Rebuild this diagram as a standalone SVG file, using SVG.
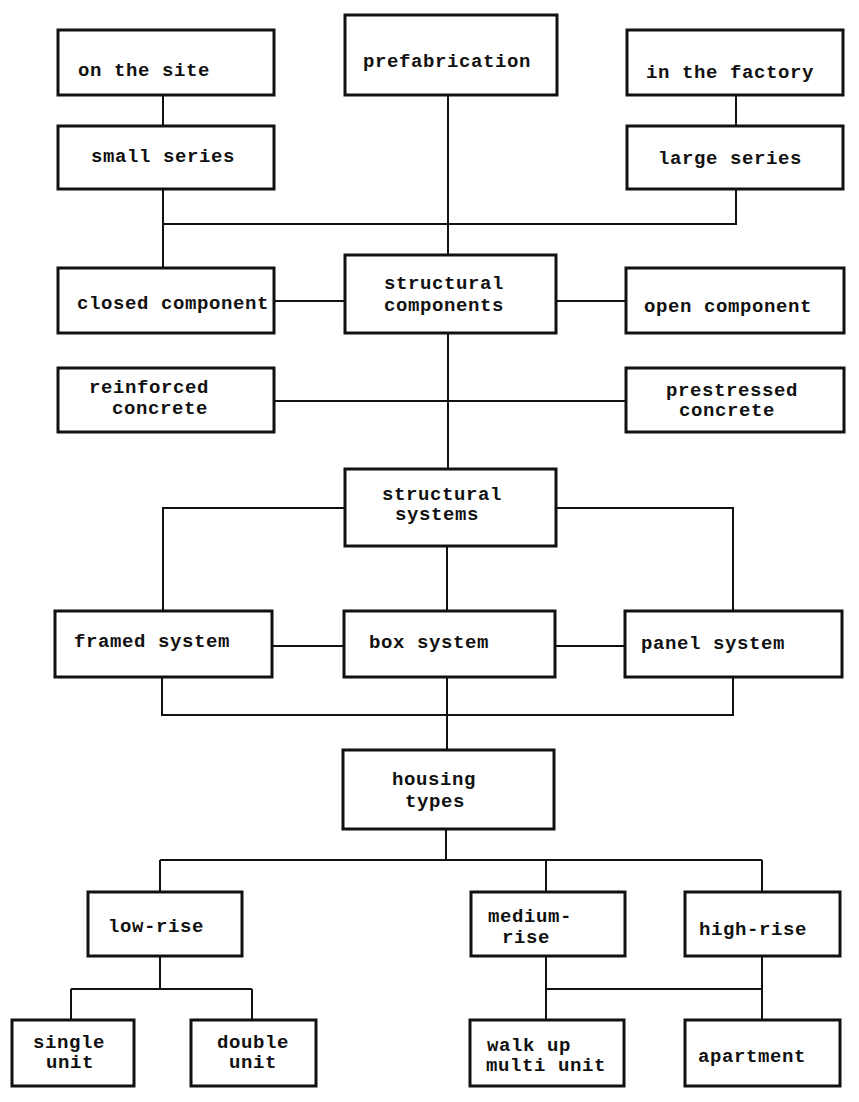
<svg xmlns="http://www.w3.org/2000/svg" width="859" height="1102" viewBox="0 0 859 1102">
<style>
.box{fill:#fff;stroke:#111;stroke-width:3}
.ln{fill:none;stroke:#111;stroke-width:2}
text{font-family:"Liberation Mono","DejaVu Sans Mono",monospace;font-weight:bold;font-size:19px;letter-spacing:0.6px;fill:#111}
</style>
<rect width="859" height="1102" fill="#fff"/>
<g id="connectors">
<path class="ln" d="M163 95V126M736 95V126M163 189V268M736 189V224H163M448 95V255"/>
<path class="ln" d="M274 301H345M557 301H626M274 401H626M448 333V469"/>
<path class="ln" d="M345 508H163V611M556 508H733V611M447 546V611"/>
<path class="ln" d="M272 646H344M555 646H625M162 677V715H733V677M447 677V750"/>
<path class="ln" d="M446 829V860M160 860H762M160 860V892M546 860V892M762 860V892"/>
<path class="ln" d="M160 956V989M71 989H252M71 989V1020M252 989V1020"/>
<path class="ln" d="M546 956V1020M762 956V1020M546 989H762"/>
</g>
<g id="on-the-site"><rect class="box" x="58" y="30" width="216" height="65"/><text x="78" y="76">on the site</text></g>
<g id="prefabrication"><rect class="box" x="345" y="15" width="212" height="80"/><text x="363" y="67">prefabrication</text></g>
<g id="in-the-factory"><rect class="box" x="627" y="30" width="216" height="65"/><text x="646" y="78">in the factory</text></g>
<g id="small-series"><rect class="box" x="58" y="126" width="216" height="63"/><text x="91" y="162">small series</text></g>
<g id="large-series"><rect class="box" x="627" y="126" width="216" height="63"/><text x="658" y="164">large series</text></g>
<g id="closed-component"><rect class="box" x="58" y="268" width="216" height="65"/><text x="77" y="309">closed component</text></g>
<g id="structural-components"><rect class="box" x="345" y="255" width="211" height="78"/><text x="384" y="289">structural</text><text x="384" y="311">components</text></g>
<g id="open-component"><rect class="box" x="626" y="268" width="218" height="65"/><text x="644" y="312">open component</text></g>
<g id="reinforced-concrete"><rect class="box" x="58" y="368" width="216" height="64"/><text x="89" y="393">reinforced</text><text x="112" y="414">concrete</text></g>
<g id="prestressed-concrete"><rect class="box" x="626" y="368" width="218" height="64"/><text x="666" y="396">prestressed</text><text x="679" y="416">concrete</text></g>
<g id="structural-systems"><rect class="box" x="345" y="469" width="211" height="77"/><text x="382" y="500">structural</text><text x="395" y="520">systems</text></g>
<g id="framed-system"><rect class="box" x="55" y="611" width="217" height="66"/><text x="74" y="647">framed system</text></g>
<g id="box-system"><rect class="box" x="344" y="611" width="211" height="66"/><text x="369" y="648">box system</text></g>
<g id="panel-system"><rect class="box" x="625" y="611" width="217" height="66"/><text x="641" y="649">panel system</text></g>
<g id="housing-types"><rect class="box" x="343" y="750" width="211" height="79"/><text x="392" y="785">housing</text><text x="405" y="807">types</text></g>
<g id="low-rise"><rect class="box" x="88" y="892" width="154" height="64"/><text x="108" y="932">low-rise</text></g>
<g id="medium-rise"><rect class="box" x="471" y="892" width="154" height="64"/><text x="488" y="922">medium-</text><text x="502" y="943">rise</text></g>
<g id="high-rise"><rect class="box" x="685" y="892" width="155" height="64"/><text x="699" y="935">high-rise</text></g>
<g id="single-unit"><rect class="box" x="12" y="1020" width="122" height="66"/><text x="33" y="1048">single</text><text x="46" y="1068">unit</text></g>
<g id="double-unit"><rect class="box" x="191" y="1020" width="125" height="66"/><text x="217" y="1048">double</text><text x="229" y="1068">unit</text></g>
<g id="walk-up-multi-unit"><rect class="box" x="470" y="1020" width="154" height="66"/><text x="487" y="1051">walk up</text><text x="486" y="1071">multi unit</text></g>
<g id="apartment"><rect class="box" x="685" y="1020" width="155" height="66"/><text x="698" y="1062">apartment</text></g>
</svg>
